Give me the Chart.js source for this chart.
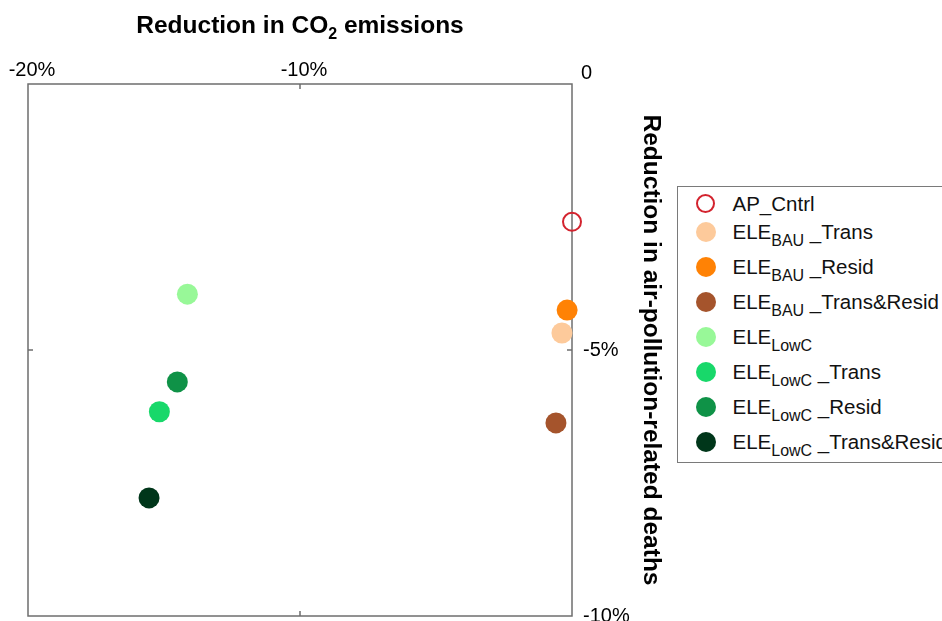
<!DOCTYPE html>
<html>
<head>
<meta charset="utf-8">
<title>CO2 vs air-pollution deaths</title>
<script src="https://cdn.jsdelivr.net/npm/chart.js@4.4.0/dist/chart.umd.min.js"></script>
<style>
  html, body { margin: 0; padding: 0; background: #fff; overflow: hidden; }
  #wrap { position: relative; width: 942px; height: 621px; overflow: hidden; }
  #chart { position: absolute; left: 0; top: 0; }
  #legend {
    position: absolute; left: 677px; top: 186px; width: 330px; height: 277px;
    border: 1.5px solid #7a7a7a; box-sizing: border-box; background: #fff;
    font-family: 'Liberation Sans', Arial, Helvetica, sans-serif; color: #111;
  }
  .row { position: absolute; left: 0; height: 24px; width: 100%; }
  .mk { position: absolute; left: 17.5px; top: 2px; width: 20px; height: 20px; border-radius: 50%; box-sizing: border-box; }
  .txt { position: absolute; left: 54.5px; top: 0; line-height: 24px; font-size: 20.5px; white-space: nowrap; }
  .sub { font-size: 16px; position: relative; top: 7px; }
</style>
</head>
<body>
<div id="wrap">
  <canvas id="chart" width="942" height="621"></canvas>
  <div id="legend"></div>
</div>
<script>
// Scenario names, in legend order
const seriesNames = [
  'AP_Cntrl',
  'ELE_BAU_Trans',
  'ELE_BAU_Resid',
  'ELE_BAU_Trans&Resid',
  'ELE_LowC',
  'ELE_LowC_Trans',
  'ELE_LowC_Resid',
  'ELE_LowC_Trans&Resid'
];
// Change in CO2 emissions (%)
const co2Reduction = [0.00, -0.37, -0.18, -0.59, -14.14, -15.17, -14.51, -15.55];
// Change in air-pollution-related deaths (%)
const deathReduction = [-2.59, -4.68, -4.25, -6.37, -3.95, -6.16, -5.60, -7.78];
const seriesColors = ['#d3232e', '#fdca9b', '#ff8205', '#a5542c', '#98f898', '#18d86a', '#0f9247', '#00361a'];
const xTickValues = [-20, -10, 0];
const yTickValues = [0, -5, -10];

const FONT = "'Liberation Sans', Arial, Helvetica, sans-serif";

const datasets = seriesNames.map((name, i) => {
  const hollow = i === 0;
  return {
    label: name,
    data: [{ x: co2Reduction[i], y: deathReduction[i] }],
    pointRadius: hollow ? 9 : 10.5,
    pointHoverRadius: hollow ? 9 : 10.5,
    backgroundColor: hollow ? 'rgba(0,0,0,0)' : seriesColors[i],
    borderColor: seriesColors[i],
    borderWidth: hollow ? 2 : 0,
    clip: false
  };
});

// Box around the plot with short inward tick marks
const framePlugin = {
  id: 'frame',
  beforeDatasetsDraw(chart) {
    const { ctx, chartArea: a, scales: { x, y } } = chart;
    ctx.save();
    ctx.strokeStyle = '#6e6e6e';
    ctx.lineWidth = 1.5;
    ctx.strokeRect(a.left, a.top, a.right - a.left, a.bottom - a.top);
    const len = 5;
    ctx.beginPath();
    x.ticks.forEach(t => {
      const px = x.getPixelForValue(t.value);
      if (px > a.left + 1 && px < a.right - 1) {
        ctx.moveTo(px, a.top); ctx.lineTo(px, a.top + len);
        ctx.moveTo(px, a.bottom); ctx.lineTo(px, a.bottom - len);
      }
    });
    y.ticks.forEach(t => {
      const py = y.getPixelForValue(t.value);
      if (py > a.top + 1 && py < a.bottom - 1) {
        ctx.moveTo(a.left, py); ctx.lineTo(a.left + len, py);
        ctx.moveTo(a.right, py); ctx.lineTo(a.right - len, py);
      }
    });
    ctx.stroke();
    ctx.restore();
  }
};

// Top title with subscript, and the shared zero label at the corner
const textPlugin = {
  id: 'extraText',
  afterDraw(chart) {
    const { ctx, chartArea: a } = chart;
    ctx.save();
    ctx.fillStyle = '#000';
    ctx.textAlign = 'left';
    ctx.textBaseline = 'alphabetic';
    const main = 'bold 24.5px ' + FONT;
    const sub = 'bold 16px ' + FONT;
    const parts = [['Reduction in CO', main, 0], ['2', sub, 6], [' emissions', main, 0]];
    let w = 0;
    parts.forEach(p => { ctx.font = p[1]; w += ctx.measureText(p[0]).width; });
    let px = (a.left + a.right) / 2 - w / 2;
    const base = 33;
    parts.forEach(p => {
      ctx.font = p[1];
      ctx.fillText(p[0], px, base + p[2]);
      px += ctx.measureText(p[0]).width;
    });
    ctx.font = '20px ' + FONT;
    ctx.textBaseline = 'middle';
    ctx.fillText('0', a.right + 9, a.top - 11);
    ctx.restore();
  }
};

const pct = v => (v === 0 ? '' : v + '%');

const chart = new Chart(document.getElementById('chart'), {
  type: 'scatter',
  data: { datasets },
  options: {
    responsive: false,
    animation: false,
    events: [],
    layout: { autoPadding: false, padding: { left: 28, right: 270, top: 0, bottom: 5 } },
    plugins: { legend: { display: false }, tooltip: { enabled: false } },
    scales: {
      x: {
        type: 'linear',
        position: 'top',
        min: -20, max: 0,
        afterBuildTicks: s => { s.ticks = xTickValues.map(v => ({ value: v })); },
        afterFit: s => { s.height = 84; s.paddingLeft = 0; s.paddingRight = 0; },
        grid: { display: false, drawTicks: false },
        border: { display: false },
        ticks: { callback: pct, padding: 2, labelOffset: 4, color: '#000', font: { family: FONT, size: 20 }, maxRotation: 0, autoSkip: false }
      },
      y: {
        type: 'linear',
        position: 'right',
        min: -10, max: 0,
        afterBuildTicks: s => { s.ticks = yTickValues.map(v => ({ value: v })); },
        afterFit: s => { s.width = 100; s.paddingTop = 0; s.paddingBottom = 0; },
        grid: { display: false, drawTicks: false },
        border: { display: false },
        ticks: { callback: pct, padding: 11, color: '#000', font: { family: FONT, size: 20, lineHeight: 0.4 }, autoSkip: false },
        title: {
          display: true,
          text: 'Reduction in air-pollution-related deaths',
          color: '#000',
          font: { family: FONT, size: 24.5, weight: 'bold' },
          padding: { top: 7, bottom: 0 }
        }
      }
    }
  },
  plugins: [framePlugin, textPlugin]
});

// HTML legend built from the chart's own legend items (allows subscripts)
function appendLabel(el, name) {
  const parts = name.split('_');
  if (parts[0] !== 'ELE') { el.textContent = name; return; }
  el.appendChild(document.createTextNode('ELE'));
  const s = document.createElement('span');
  s.className = 'sub';
  s.textContent = parts[1];
  el.appendChild(s);
  if (parts.length > 2) el.appendChild(document.createTextNode(' _' + parts.slice(2).join('_')));
}

const legendEl = document.getElementById('legend');
const items = Chart.defaults.plugins.legend.labels.generateLabels(chart);
let center = 18;
items.forEach((item, i) => {
  if (i === 1) center += 28; else if (i > 1) center += 35;
  const row = document.createElement('div');
  row.className = 'row';
  row.style.top = (center - 12 - 1.5) + 'px';
  const mk = document.createElement('div');
  mk.className = 'mk';
  if (item.lineWidth > 0) {
    mk.style.border = item.lineWidth + 'px solid ' + item.strokeStyle;
    mk.style.width = '19px'; mk.style.height = '19px';
    mk.style.left = '18px'; mk.style.top = '2.5px';
  } else {
    mk.style.background = item.fillStyle;
  }
  const txt = document.createElement('div');
  txt.className = 'txt';
  appendLabel(txt, item.text);
  row.appendChild(mk);
  row.appendChild(txt);
  legendEl.appendChild(row);
});
</script>
</body>
</html>
